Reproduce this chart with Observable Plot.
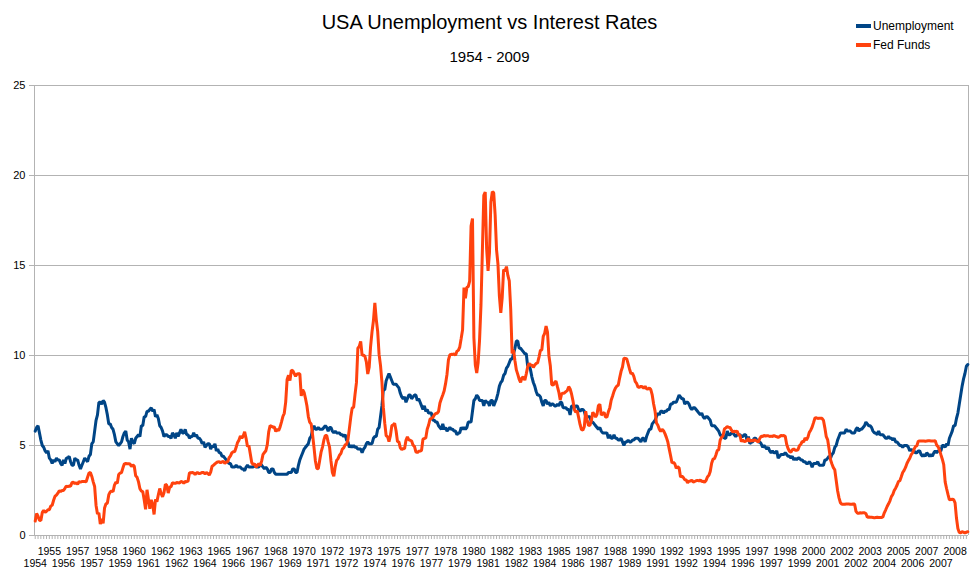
<!DOCTYPE html>
<html>
<head>
<meta charset="utf-8">
<script src="https://cdn.jsdelivr.net/npm/d3@7"></script>
<script src="https://cdn.jsdelivr.net/npm/@observablehq/plot@0.6"></script>
<style>
  html, body { margin: 0; padding: 0; background: #fff; }
  body { font-family: "Liberation Sans", Arial, sans-serif; }
  #wrap { position: relative; width: 979px; height: 585px; overflow: hidden; }
  #header { position: relative; width: 979px; height: 75px; }
  #title { position: absolute; top: 10px; left: 0; width: 979px; text-align: center; font-size: 20px; line-height: 24px; color: #000; }
  #subtitle { position: absolute; top: 47px; left: 0; width: 979px; text-align: center; font-size: 15px; line-height: 20px; color: #000; }
  #legend { position: absolute; left: 856px; top: 16px; font-size: 12px; color: #000; }
  .item { display: flex; align-items: center; height: 19px; }
  .sw { width: 15px; height: 4px; margin-right: 2px; }
  #chart svg { display: block; }
</style>
</head>
<body>
<div id="wrap">
  <div id="header">
    <div id="title">USA Unemployment vs Interest Rates</div>
    <div id="subtitle">1954 - 2009</div>
    <div id="legend"></div>
  </div>
  <div id="chart"></div>
</div>
<script>
// Monthly values, July 1954 to June 2009
const startYear = 1954;
const startMonth = 7;

const seriesNames = ["Unemployment", "Fed Funds"];
const seriesColors = ["#004586", "#ff420e"];

const unemployment = [
  5.8,6.0,6.1,5.7,5.3,5.0,
  4.9,4.7,4.6,4.7,4.3,4.2,4.0,4.2,4.1,4.3,4.2,4.2,
  4.0,3.9,4.2,4.0,4.3,4.3,4.4,4.1,3.9,3.9,4.3,4.2,
  4.2,3.9,3.7,3.9,4.1,4.3,4.2,4.1,4.4,4.5,5.1,5.2,
  5.8,6.4,6.7,7.4,7.4,7.3,7.5,7.4,7.1,6.7,6.2,6.2,
  6.0,5.9,5.6,5.2,5.1,5.0,5.1,5.2,5.5,5.7,5.8,5.3,
  5.2,4.8,5.4,5.2,5.1,5.4,5.5,5.6,5.5,6.1,6.1,6.6,
  6.6,6.9,6.9,7.0,7.1,6.9,7.0,6.6,6.7,6.5,6.1,6.0,
  5.8,5.5,5.6,5.6,5.5,5.5,5.4,5.7,5.6,5.4,5.7,5.5,
  5.7,5.9,5.7,5.7,5.9,5.6,5.6,5.4,5.5,5.5,5.7,5.5,
  5.6,5.4,5.4,5.3,5.1,5.2,4.9,5.0,5.1,5.1,4.8,5.0,
  4.9,5.1,4.7,4.8,4.6,4.6,4.4,4.4,4.3,4.2,4.1,4.0,
  4.0,3.8,3.8,3.8,3.9,3.8,3.8,3.8,3.7,3.7,3.6,3.8,
  3.9,3.8,3.8,3.8,3.8,3.9,3.8,3.8,3.8,4.0,3.9,3.8,
  3.7,3.8,3.7,3.5,3.5,3.7,3.7,3.5,3.4,3.4,3.4,3.4,
  3.4,3.4,3.4,3.4,3.4,3.5,3.5,3.5,3.7,3.7,3.5,3.5,
  3.9,4.2,4.4,4.6,4.8,4.9,5.0,5.1,5.4,5.5,5.9,6.1,
  5.9,5.9,6.0,5.9,5.9,5.9,6.0,6.1,6.0,5.8,6.0,6.0,
  5.8,5.7,5.8,5.7,5.7,5.7,5.6,5.6,5.5,5.6,5.3,5.2,
  4.9,5.0,4.9,5.0,4.9,4.9,4.8,4.8,4.8,4.6,4.8,4.9,
  5.1,5.2,5.1,5.1,5.1,5.4,5.5,5.5,5.9,6.0,6.6,7.2,
  8.1,8.1,8.6,8.8,9.0,8.8,8.6,8.4,8.4,8.4,8.3,8.2,
  7.9,7.7,7.6,7.7,7.4,7.6,7.8,7.8,7.6,7.7,7.8,7.8,
  7.5,7.6,7.4,7.2,7.0,7.2,6.9,7.0,6.8,6.8,6.8,6.4,
  6.4,6.3,6.3,6.1,6.0,5.9,6.2,5.9,6.0,5.8,5.9,6.0,
  5.9,5.9,5.8,5.8,5.6,5.7,5.7,6.0,5.9,6.0,5.9,6.0,
  6.3,6.3,6.3,6.9,7.5,7.6,7.8,7.7,7.5,7.5,7.5,7.2,
  7.5,7.4,7.4,7.2,7.5,7.5,7.2,7.4,7.6,7.9,8.3,8.5,
  8.6,8.9,9.0,9.3,9.4,9.6,9.8,9.8,10.1,10.4,10.8,10.8,
  10.4,10.4,10.3,10.2,10.1,10.1,9.4,9.5,9.2,8.8,8.5,8.3,
  8.0,7.8,7.8,7.7,7.4,7.2,7.5,7.5,7.3,7.4,7.2,7.3,
  7.3,7.2,7.2,7.3,7.2,7.4,7.4,7.1,7.1,7.1,7.0,7.0,
  6.7,7.2,7.2,7.1,7.2,7.2,7.0,6.9,7.0,7.0,6.9,6.6,
  6.6,6.6,6.6,6.3,6.3,6.2,6.1,6.0,5.9,6.0,5.8,5.7,
  5.7,5.7,5.7,5.4,5.6,5.4,5.4,5.6,5.4,5.4,5.3,5.3,
  5.4,5.2,5.0,5.2,5.2,5.3,5.2,5.2,5.3,5.3,5.4,5.4,
  5.4,5.3,5.2,5.4,5.4,5.2,5.5,5.7,5.9,5.9,6.2,6.3,
  6.4,6.6,6.8,6.7,6.9,6.9,6.8,6.9,6.9,7.0,7.0,7.3,
  7.3,7.4,7.4,7.4,7.6,7.8,7.7,7.6,7.6,7.3,7.4,7.4,
  7.3,7.1,7.0,7.1,7.1,7.0,6.9,6.8,6.7,6.8,6.6,6.5,
  6.6,6.6,6.5,6.4,6.1,6.1,6.1,6.0,5.9,5.8,5.6,5.5,
  5.6,5.4,5.4,5.8,5.6,5.6,5.7,5.7,5.6,5.5,5.6,5.6,
  5.6,5.5,5.5,5.6,5.6,5.3,5.5,5.1,5.2,5.2,5.4,5.4,
  5.3,5.2,5.2,5.1,4.9,5.0,4.9,4.8,4.9,4.7,4.6,4.7,
  4.6,4.6,4.7,4.3,4.4,4.5,4.5,4.5,4.6,4.5,4.4,4.4,
  4.3,4.4,4.2,4.3,4.2,4.3,4.3,4.2,4.2,4.1,4.1,4.0,
  4.0,4.1,4.0,3.8,4.0,4.0,4.0,4.1,3.9,3.9,3.9,3.9,
  4.2,4.2,4.3,4.4,4.3,4.5,4.6,4.9,5.0,5.3,5.5,5.7,
  5.7,5.7,5.7,5.9,5.8,5.8,5.8,5.7,5.7,5.7,5.9,6.0,
  5.8,5.9,5.9,6.0,6.1,6.3,6.2,6.1,6.1,6.0,5.8,5.7,
  5.7,5.6,5.8,5.6,5.6,5.6,5.5,5.4,5.4,5.5,5.4,5.4,
  5.3,5.4,5.2,5.2,5.1,5.0,5.0,4.9,5.0,5.0,5.0,4.9,
  4.7,4.8,4.7,4.7,4.6,4.6,4.7,4.7,4.5,4.4,4.5,4.4,
  4.6,4.5,4.4,4.5,4.4,4.6,4.7,4.6,4.7,4.7,4.7,5.0,
  5.0,4.9,5.1,5.0,5.4,5.6,5.8,6.1,6.1,6.5,6.8,7.3,
  7.8,8.3,8.7,9.0,9.4,9.5
];

const fedFunds = [
  0.80,1.22,1.07,0.85,0.83,1.28,
  1.39,1.29,1.35,1.43,1.43,1.64,1.68,1.96,2.18,2.24,2.35,2.48,
  2.45,2.50,2.50,2.62,2.75,2.71,2.75,2.73,2.95,2.96,2.88,2.94,
  2.84,3.00,2.96,3.00,3.00,3.00,2.99,3.24,3.47,3.50,3.28,2.98,
  2.72,1.67,1.20,1.26,0.63,0.93,0.68,1.53,1.76,1.80,2.27,2.42,
  2.48,2.43,2.80,2.96,2.90,3.39,3.47,3.50,3.76,3.98,4.00,3.99,
  3.99,3.97,3.84,3.92,3.85,3.32,3.23,2.98,2.60,2.47,2.44,1.98,
  1.45,2.54,2.02,1.49,1.98,1.73,1.17,2.00,1.88,2.26,2.61,2.33,
  2.15,2.37,2.85,2.78,2.36,2.68,2.71,2.93,2.90,2.90,2.94,2.93,
  2.92,3.00,2.98,2.90,3.00,2.99,3.02,3.49,3.48,3.50,3.48,3.38,
  3.48,3.48,3.43,3.47,3.50,3.50,3.42,3.50,3.45,3.36,3.52,3.85,
  3.90,3.98,4.04,4.09,4.10,4.04,4.09,4.12,4.01,4.08,4.10,4.32,
  4.42,4.60,4.65,4.67,4.90,5.17,5.30,5.53,5.40,5.53,5.76,5.40,
  4.94,5.00,4.53,4.05,3.94,3.98,3.79,3.90,3.99,3.88,4.13,4.51,
  4.61,4.71,5.05,5.76,6.11,6.07,6.02,6.03,5.78,5.91,5.82,6.02,
  6.30,6.61,6.79,7.41,8.67,8.90,8.61,9.19,9.15,9.00,8.85,8.97,
  8.98,8.98,7.76,8.10,7.95,7.61,7.21,6.61,6.29,6.20,5.60,4.90,
  4.14,3.72,3.71,4.16,4.63,4.91,5.31,5.56,5.55,5.20,4.91,4.14,
  3.50,3.29,3.83,4.17,4.27,4.46,4.55,4.80,4.87,5.04,5.06,5.33,
  5.94,6.58,7.09,7.12,7.84,8.49,10.40,10.50,10.78,10.01,10.03,9.95,
  9.65,8.97,9.35,10.51,11.31,11.93,12.92,12.01,11.34,10.06,9.45,8.53,
  7.13,6.24,5.54,5.49,5.22,5.55,6.10,6.14,6.24,5.82,5.22,5.20,
  4.87,4.77,4.84,4.82,5.29,5.48,5.31,5.29,5.25,5.02,4.95,4.65,
  4.61,4.68,4.69,4.73,5.35,5.39,5.42,5.90,6.14,6.47,6.51,6.56,
  6.70,6.78,6.79,6.89,7.36,7.60,7.81,8.04,8.45,8.96,9.76,10.03,
  10.07,10.06,10.09,10.01,10.24,10.29,10.47,10.94,11.43,13.77,13.18,13.78,
  13.82,14.13,17.19,17.61,10.98,9.47,9.03,9.61,10.87,12.81,15.85,18.90,
  19.08,15.93,14.70,15.72,18.52,19.10,19.04,17.82,15.87,15.08,13.31,12.37,
  13.22,14.78,14.68,14.94,14.45,14.15,12.59,10.12,10.31,9.71,9.20,8.95,
  8.68,8.51,8.77,8.80,8.63,8.98,9.37,9.56,9.45,9.48,9.34,9.47,
  9.56,9.59,9.91,10.29,10.32,11.06,11.23,11.64,11.30,9.99,9.43,8.38,
  8.35,8.50,8.58,8.27,7.97,7.53,7.88,7.90,7.92,7.99,8.05,8.27,
  8.14,7.86,7.48,6.99,6.85,6.92,6.56,6.17,5.89,5.85,6.04,6.91,
  6.43,6.10,6.13,6.37,6.85,6.73,6.58,6.73,7.22,7.29,6.69,6.77,
  6.83,6.58,6.58,6.87,7.09,7.51,7.75,8.01,8.19,8.30,8.35,8.76,
  9.12,9.36,9.85,9.84,9.81,9.53,9.24,8.99,9.02,8.84,8.55,8.45,
  8.23,8.24,8.28,8.26,8.18,8.29,8.15,8.13,8.20,8.11,7.81,7.31,
  6.91,6.25,6.12,5.91,5.78,5.90,5.82,5.66,5.45,5.21,4.81,4.43,
  4.03,4.06,3.98,3.73,3.82,3.76,3.25,3.30,3.22,3.10,3.09,2.92,
  3.02,3.03,3.07,2.96,3.00,3.04,3.06,3.03,3.09,2.99,3.02,2.96,
  3.05,3.25,3.34,3.56,4.01,4.25,4.26,4.47,4.73,4.76,5.29,5.45,
  5.53,5.92,5.98,6.05,6.01,6.00,5.85,5.74,5.80,5.76,5.80,5.60,
  5.56,5.22,5.31,5.22,5.24,5.27,5.40,5.22,5.30,5.24,5.31,5.29,
  5.25,5.19,5.39,5.51,5.50,5.56,5.52,5.54,5.54,5.50,5.52,5.50,
  5.56,5.51,5.49,5.45,5.49,5.56,5.54,5.55,5.51,5.07,4.83,4.68,
  4.63,4.76,4.81,4.74,4.74,4.76,4.99,5.07,5.22,5.20,5.42,5.30,
  5.45,5.73,5.85,6.02,6.27,6.53,6.54,6.50,6.52,6.51,6.51,6.40,
  5.98,5.49,5.31,4.80,4.21,3.97,3.77,3.65,3.07,2.49,2.09,1.82,
  1.73,1.74,1.73,1.75,1.75,1.75,1.73,1.74,1.75,1.75,1.34,1.24,
  1.24,1.26,1.25,1.26,1.26,1.22,1.01,1.03,1.01,1.01,1.00,0.98,
  1.00,1.01,1.00,1.00,1.00,1.03,1.26,1.43,1.61,1.76,1.93,2.16,
  2.28,2.50,2.63,2.79,3.00,3.04,3.26,3.50,3.62,3.78,4.00,4.16,
  4.29,4.49,4.59,4.79,4.94,4.99,5.24,5.25,5.25,5.25,5.25,5.24,
  5.25,5.26,5.26,5.25,5.25,5.25,5.26,5.02,4.94,4.76,4.49,4.24,
  3.94,2.98,2.61,2.28,1.98,2.00,2.01,2.00,1.81,0.97,0.39,0.16,
  0.15,0.22,0.18,0.15,0.18,0.21
];

// Category-axis labels shown every 10th month (alternating rows)
const xLabels = [
  "1954","1955","1956","1957","1957","1958","1959","1960","1961","1962","1962","1963",
  "1964","1965","1966","1967","1967","1968","1969","1970","1971","1972","1972","1973",
  "1974","1975","1976","1977","1977","1978","1979","1980","1981","1982","1982","1983",
  "1984","1985","1986","1987","1987","1988","1989","1990","1991","1992","1992","1993",
  "1994","1995","1996","1997","1997","1998","1999","2000","2001","2002","2002","2003",
  "2004","2005","2006","2007","2007","2008"
];
const labelStep = 10;
const yTicks = [0, 5, 10, 15, 20, 25];

// Legend
const legend = document.getElementById("legend");
seriesNames.forEach((name, i) => {
  const row = document.createElement("div");
  row.className = "item";
  row.innerHTML = `<span class="sw" style="background:${seriesColors[i]}"></span><span>${name}</span>`;
  legend.appendChild(row);
});

const n = unemployment.length;
const rows = [];
for (let i = 0; i < n; i++) {
  rows.push({i, series: seriesNames[0], value: unemployment[i]});
}
for (let i = 0; i < fedFunds.length; i++) {
  rows.push({i, series: seriesNames[1], value: fedFunds[i]});
}

const labelPos = xLabels.map((_, k) => k * labelStep);
const bottomRow = labelPos.filter((_, k) => k % 2 === 0);
const topRow = labelPos.filter((_, k) => k % 2 === 1);
const fmt = (v) => xLabels[Math.round(v / labelStep)];
const minorTicks = d3.range(0, n, 2);
const gray = "#b3b3b3";

const chart = Plot.plot({
  width: 979,
  height: 510,
  marginTop: 10,
  marginBottom: 50,
  marginLeft: 34,
  marginRight: 11,
  style: {fontFamily: "'Liberation Sans', Arial, sans-serif", background: "#fff", color: "#000"},
  x: {domain: [-0.5, n - 0.5], axis: null, label: null},
  y: {domain: [0, 25], axis: null, label: null},
  marks: [
    Plot.gridY(yTicks.filter(d => d > 0), {stroke: gray, strokeOpacity: 1, strokeWidth: 1}),
    Plot.ruleY([0], {stroke: gray, strokeWidth: 1}),
    Plot.ruleX([-0.5], {stroke: gray, strokeWidth: 1}),
    Plot.ruleX([n - 0.5], {stroke: gray, strokeWidth: 1}),
    Plot.axisY(yTicks, {label: null, tickSize: 5, tickPadding: 4, stroke: gray, fill: "#000", fontSize: 11, tickFormat: d => String(d)}),
    Plot.axisX(minorTicks, {label: null, tickSize: 4, stroke: gray, tickFormat: () => ""}),
    Plot.axisX(topRow, {label: null, tickSize: 0, tickPadding: 12, fill: "#000", fontSize: 10.5, tickFormat: fmt}),
    Plot.axisX(bottomRow, {label: null, tickSize: 0, tickPadding: 24, fill: "#000", fontSize: 10.5, tickFormat: fmt}),
    Plot.line(rows, {x: "i", y: "value", z: "series", stroke: "series", strokeWidth: 3, strokeLinejoin: "miter", curve: "linear"})
  ],
  color: {domain: seriesNames, range: seriesColors}
});

document.getElementById("chart").appendChild(chart);
</script>
</body>
</html>
